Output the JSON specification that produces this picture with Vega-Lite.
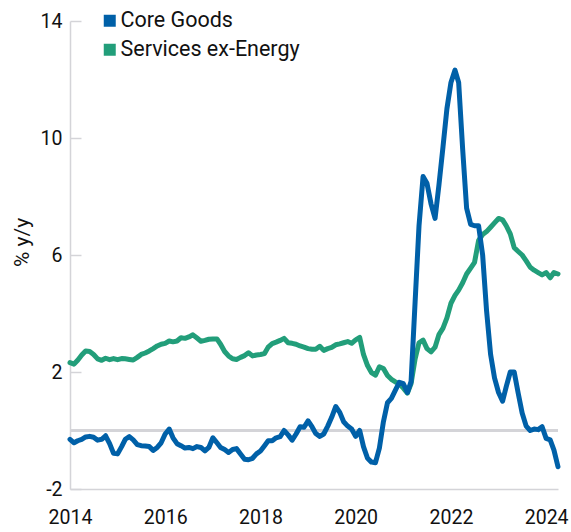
{
  "$schema": "https://vega.github.io/schema/vega-lite/v6.json",
  "autosize": "none",
  "padding": {"left": 70, "top": 21, "right": 13, "bottom": 43},
  "width": 488,
  "height": 468,
  "config": {
    "view": {"stroke": null},
    "font": "Roboto",
    "axis": {"labelFont": "Roboto", "titleFont": "Roboto", "labelColor": "#111", "titleColor": "#111"}
  },
  "data": {"values": [
{"date":"2014-01-01","cg":-0.30,"sv":2.32},{"date":"2014-02-01","cg":-0.42,"sv":2.27},{"date":"2014-03-01","cg":-0.35,"sv":2.40},{"date":"2014-04-01","cg":-0.30,"sv":2.58},{"date":"2014-05-01","cg":-0.22,"sv":2.72},{"date":"2014-06-01","cg":-0.20,"sv":2.70},{"date":"2014-07-01","cg":-0.23,"sv":2.60},{"date":"2014-08-01","cg":-0.33,"sv":2.45},{"date":"2014-09-01","cg":-0.30,"sv":2.40},{"date":"2014-10-01","cg":-0.18,"sv":2.47},{"date":"2014-11-01","cg":-0.45,"sv":2.42},{"date":"2014-12-01","cg":-0.78,"sv":2.46},
{"date":"2015-01-01","cg":-0.80,"sv":2.42},{"date":"2015-02-01","cg":-0.55,"sv":2.46},{"date":"2015-03-01","cg":-0.30,"sv":2.45},{"date":"2015-04-01","cg":-0.21,"sv":2.43},{"date":"2015-05-01","cg":-0.32,"sv":2.41},{"date":"2015-06-01","cg":-0.48,"sv":2.50},{"date":"2015-07-01","cg":-0.52,"sv":2.60},{"date":"2015-08-01","cg":-0.53,"sv":2.65},{"date":"2015-09-01","cg":-0.55,"sv":2.72},{"date":"2015-10-01","cg":-0.68,"sv":2.80},{"date":"2015-11-01","cg":-0.58,"sv":2.89},{"date":"2015-12-01","cg":-0.42,"sv":2.95},
{"date":"2016-01-01","cg":-0.12,"sv":2.98},{"date":"2016-02-01","cg":0.05,"sv":3.06},{"date":"2016-03-01","cg":-0.25,"sv":3.03},{"date":"2016-04-01","cg":-0.45,"sv":3.06},{"date":"2016-05-01","cg":-0.52,"sv":3.17},{"date":"2016-06-01","cg":-0.60,"sv":3.15},{"date":"2016-07-01","cg":-0.58,"sv":3.20},{"date":"2016-08-01","cg":-0.62,"sv":3.27},{"date":"2016-09-01","cg":-0.55,"sv":3.16},{"date":"2016-10-01","cg":-0.58,"sv":3.05},{"date":"2016-11-01","cg":-0.70,"sv":3.08},{"date":"2016-12-01","cg":-0.58,"sv":3.12},
{"date":"2017-01-01","cg":-0.25,"sv":3.13},{"date":"2017-02-01","cg":-0.42,"sv":3.13},{"date":"2017-03-01","cg":-0.58,"sv":2.95},{"date":"2017-04-01","cg":-0.65,"sv":2.70},{"date":"2017-05-01","cg":-0.75,"sv":2.55},{"date":"2017-06-01","cg":-0.65,"sv":2.45},{"date":"2017-07-01","cg":-0.62,"sv":2.43},{"date":"2017-08-01","cg":-0.80,"sv":2.50},{"date":"2017-09-01","cg":-0.98,"sv":2.56},{"date":"2017-10-01","cg":-1.00,"sv":2.66},{"date":"2017-11-01","cg":-0.95,"sv":2.55},{"date":"2017-12-01","cg":-0.80,"sv":2.58},
{"date":"2018-01-01","cg":-0.70,"sv":2.60},{"date":"2018-02-01","cg":-0.52,"sv":2.63},{"date":"2018-03-01","cg":-0.35,"sv":2.85},{"date":"2018-04-01","cg":-0.35,"sv":2.97},{"date":"2018-05-01","cg":-0.25,"sv":3.02},{"date":"2018-06-01","cg":-0.21,"sv":3.08},{"date":"2018-07-01","cg":0.00,"sv":3.15},{"date":"2018-08-01","cg":-0.15,"sv":3.00},{"date":"2018-09-01","cg":-0.33,"sv":2.98},{"date":"2018-10-01","cg":-0.12,"sv":2.95},{"date":"2018-11-01","cg":0.13,"sv":2.89},{"date":"2018-12-01","cg":0.11,"sv":2.85},
{"date":"2019-01-01","cg":0.33,"sv":2.80},{"date":"2019-02-01","cg":0.12,"sv":2.78},{"date":"2019-03-01","cg":-0.10,"sv":2.78},{"date":"2019-04-01","cg":-0.20,"sv":2.88},{"date":"2019-05-01","cg":-0.12,"sv":2.74},{"date":"2019-06-01","cg":0.15,"sv":2.80},{"date":"2019-07-01","cg":0.45,"sv":2.84},{"date":"2019-08-01","cg":0.82,"sv":2.93},{"date":"2019-09-01","cg":0.62,"sv":2.96},{"date":"2019-10-01","cg":0.30,"sv":3.00},{"date":"2019-11-01","cg":0.15,"sv":3.04},{"date":"2019-12-01","cg":0.05,"sv":2.98},
{"date":"2020-01-01","cg":-0.20,"sv":3.10},{"date":"2020-02-01","cg":0.00,"sv":3.18},{"date":"2020-03-01","cg":-0.55,"sv":2.60},{"date":"2020-04-01","cg":-0.95,"sv":2.22},{"date":"2020-05-01","cg":-1.08,"sv":1.98},{"date":"2020-06-01","cg":-1.10,"sv":1.89},{"date":"2020-07-01","cg":-0.60,"sv":2.18},{"date":"2020-08-01","cg":0.30,"sv":2.12},{"date":"2020-09-01","cg":0.95,"sv":1.88},{"date":"2020-10-01","cg":1.10,"sv":1.75},{"date":"2020-11-01","cg":1.38,"sv":1.66},{"date":"2020-12-01","cg":1.65,"sv":1.60},
{"date":"2021-01-01","cg":1.60,"sv":1.45},{"date":"2021-02-01","cg":1.30,"sv":1.28},{"date":"2021-03-01","cg":1.67,"sv":1.60},{"date":"2021-04-01","cg":4.40,"sv":2.45},{"date":"2021-05-01","cg":7.00,"sv":3.00},{"date":"2021-06-01","cg":8.68,"sv":3.09},{"date":"2021-07-01","cg":8.45,"sv":2.80},{"date":"2021-08-01","cg":7.75,"sv":2.69},{"date":"2021-09-01","cg":7.25,"sv":2.85},{"date":"2021-10-01","cg":8.40,"sv":3.28},{"date":"2021-11-01","cg":9.70,"sv":3.50},{"date":"2021-12-01","cg":11.00,"sv":3.85},
{"date":"2022-01-01","cg":11.90,"sv":4.35},{"date":"2022-02-01","cg":12.32,"sv":4.62},{"date":"2022-03-01","cg":11.90,"sv":4.80},{"date":"2022-04-01","cg":9.60,"sv":5.05},{"date":"2022-05-01","cg":7.60,"sv":5.35},{"date":"2022-06-01","cg":7.05,"sv":5.55},{"date":"2022-07-01","cg":7.00,"sv":5.75},{"date":"2022-08-01","cg":7.00,"sv":6.50},{"date":"2022-09-01","cg":6.00,"sv":6.70},{"date":"2022-10-01","cg":4.10,"sv":6.80},{"date":"2022-11-01","cg":2.60,"sv":6.95},{"date":"2022-12-01","cg":1.80,"sv":7.10},
{"date":"2023-01-01","cg":1.30,"sv":7.25},{"date":"2023-02-01","cg":1.00,"sv":7.20},{"date":"2023-03-01","cg":1.50,"sv":7.00},{"date":"2023-04-01","cg":2.00,"sv":6.72},{"date":"2023-05-01","cg":2.00,"sv":6.25},{"date":"2023-06-01","cg":1.27,"sv":6.12},{"date":"2023-07-01","cg":0.60,"sv":6.00},{"date":"2023-08-01","cg":0.15,"sv":5.80},{"date":"2023-09-01","cg":0.00,"sv":5.58},{"date":"2023-10-01","cg":0.05,"sv":5.48},{"date":"2023-11-01","cg":0.03,"sv":5.40},{"date":"2023-12-01","cg":0.13,"sv":5.32},
{"date":"2024-01-01","cg":-0.27,"sv":5.40},{"date":"2024-02-01","cg":-0.32,"sv":5.22},{"date":"2024-03-01","cg":-0.67,"sv":5.40},{"date":"2024-04-01","cg":-1.24,"sv":5.35}
  ]},
  "layer": [
    {
      "mark": {"type": "rule", "color": "#d4d4d8", "strokeWidth": 1.5},
      "encoding": {"y": {"datum": 0, "type": "quantitative", "scale": {"domain": [-2, 14], "nice": false}}}
    },
    {
      "mark": {"type": "line", "strokeWidth": 5, "strokeJoin": "round", "strokeCap": "round", "clip": false},
      "encoding": {
        "x": {"field": "date", "type": "temporal", "scale": {"type": "utc", "domain": ["2014-01-01", "2024-04-01"]},
          "axis": {"title": null, "format": "%Y", "tickCount": {"interval": "year", "step": 2}, "ticks": false, "grid": false,
            "domainColor": "#d4d4d8", "domainWidth": 1.5, "labelFontSize": 19.5, "labelPadding": 19, "labelFlush": false}},
        "y": {"field": "sv", "type": "quantitative", "scale": {"domain": [-2, 14], "nice": false},
          "axis": {"title": "% y/y", "values": [-2, 2, 6, 10, 14], "grid": false, "tickSize": -11, "tickColor": "#d4d4d8", "tickWidth": 1.5,
            "labelExpr": "datum.value < 0 ? '-' + abs(datum.value) : datum.label",
            "domainColor": "#d4d4d8", "domainWidth": 1.5, "labelFontSize": 19.5, "labelPadding": 19,
            "titleFontSize": 21, "titleFontWeight": "normal", "titleX": -48, "titleY": 221, "titleAngle": -90, "titleAlign": "center", "titleBaseline": "middle"}},
        "color": {"datum": "Services ex-Energy", "type": "nominal",
          "scale": {"domain": ["Core Goods", "Services ex-Energy"], "range": ["#0060a8", "#229e7a"]},
          "legend": {"title": null, "orient": "none", "legendX": 29, "legendY": -11, "symbolType": "square", "symbolSize": 144,
            "labelFontSize": 21.5, "labelColor": "#111", "labelOffset": 0, "rowPadding": 6, "labelLimit": 400,
            "encode": {"symbols": {"update": {"fill": {"scale": "color", "field": "value"}, "strokeWidth": {"value": 0}, "opacity": {"value": 1}}}}}}
      }
    },
    {
      "mark": {"type": "line", "strokeWidth": 5, "strokeJoin": "round", "strokeCap": "round", "clip": false},
      "encoding": {
        "x": {"field": "date", "type": "temporal"},
        "y": {"field": "cg", "type": "quantitative"},
        "color": {"datum": "Core Goods", "type": "nominal"}
      }
    }
  ]
}
